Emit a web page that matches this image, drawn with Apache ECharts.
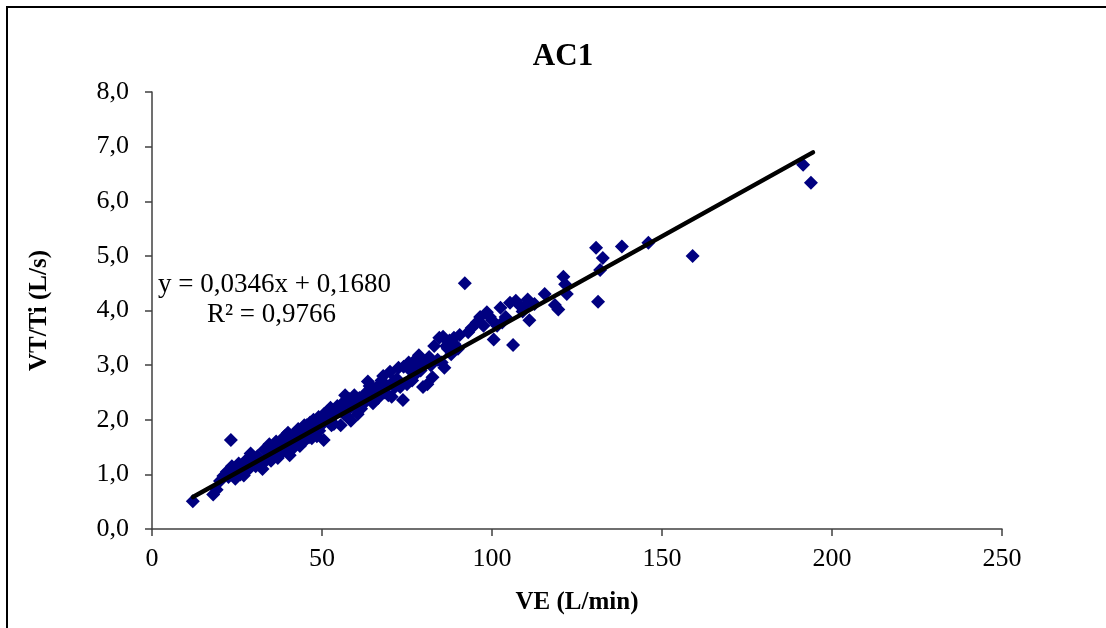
<!DOCTYPE html>
<html>
<head>
<meta charset="utf-8">
<script src="https://cdn.jsdelivr.net/npm/echarts@6/dist/echarts.min.js"></script>
<style>html,body{margin:0;padding:0;background:#fff}#c{width:1106px;height:628px}</style>
</head>
<body>
<div id="c"></div>
<script>
// VE (L/min) values
const veData = [12,18,19,20,21,22,23.2,23.5,24.5,25,25.5,26.5,27,28,28.5,29,30,30.5,31,32,32.5,33,34,34.5,35,36,36.5,37,37.5,38,38.5,39,39.5,40,40.5,41,41.5,42,42.5,43,43.5,44,44.5,45,45.5,46,46.5,47,47.5,48,48.5,49,49.5,50,50.5,50.5,51.5,52,52.5,53,53.5,54,55,55.5,56,56.8,57,57.5,58,58.5,59,60,60.5,61,62,63,63.5,64,64.5,65,66,67,68,68.5,69,70,70.5,71,72,72.5,73,73.8,74,75,75.5,76,77,77.5,78,78.5,79,79.7,81,81.5,82,83,84,84.5,85.6,86,86.5,87.5,88,89,90,90.5,92,94,95.5,96.5,97.5,98.5,99.4,100,100.5,101.5,102.5,104,105.3,106.2,107,108,109,110.5,111,112.5,115.5,118.5,119.5,121,121.5,122,130.6,131.2,131.8,132.6,138.2,146,159,191.5,193.8,
  22.5,24,26,27.5,29.5,31.5,33.5,35.5,37.2,38.8,40.2,41.8,43.2,44.8,46.2,47.8,49.2,51.2,52.8,54.5,56.5,58.3,59.5,61.5,62.5,64.8,66.5,67.5,69.5,71.5,76.5,80.2,82.5,85.2,87,88.8,93,103,109.5];
// VT/Ti (L/s) values
const vtData = [0.51,0.63,0.72,0.88,0.97,1.05,1.63,1.15,0.92,1.05,1.2,1.12,0.98,1.28,1.1,1.38,1.25,1.15,1.33,1.2,1.1,1.45,1.32,1.55,1.25,1.42,1.6,1.3,1.5,1.62,1.42,1.7,1.55,1.76,1.35,1.62,1.48,1.72,1.58,1.83,1.52,1.68,1.8,1.62,1.9,1.75,1.95,1.66,2.0,1.82,1.7,2.05,1.88,1.95,2.1,1.63,2.15,1.98,2.22,2.05,1.92,2.12,2.2,1.9,2.3,2.45,2.15,2.05,2.38,1.98,2.25,2.32,2.1,2.4,2.28,2.5,2.7,2.62,2.45,2.3,2.55,2.65,2.8,2.5,2.6,2.88,2.42,2.7,2.75,2.95,2.6,2.36,2.97,2.65,3.05,2.9,2.8,3.1,3.0,3.18,2.9,2.6,2.65,3.15,3.0,3.35,3.1,3.5,3.52,2.95,3.35,3.45,3.2,3.38,3.3,3.55,4.5,3.68,3.78,3.88,3.72,3.97,3.88,3.82,3.47,3.72,4.05,3.88,4.14,3.37,4.18,4.1,3.98,4.2,3.82,4.12,4.3,4.1,4.02,4.62,4.48,4.3,5.15,4.16,4.74,4.96,5.17,5.24,5.0,6.67,6.34,
  0.95,1.1,1.0,1.22,1.18,1.28,1.25,1.5,1.4,1.58,1.5,1.75,1.68,1.9,1.68,1.88,1.8,2.0,1.9,2.25,2.1,2.22,2.45,2.2,2.38,2.6,2.4,2.72,2.45,2.6,2.72,3.05,2.78,3.05,3.3,3.5,3.6,3.78,4.08];
// Trend line (from displayed regression equation)
const trendSlope = 0.0346;
const trendIntercept = 0.1680;
const trendRange = [12.06, 194.4];
const equationLines = ['y = 0,0346x + 0,1680', 'R² = 0,9766'];
const xTicks = [0, 50, 100, 150, 200, 250];
const yTicks = [0, 1, 2, 3, 4, 5, 6, 7, 8];

const points = veData.map((v, i) => [v, vtData[i]]);
const trend = trendRange.map(x => [x, trendSlope * x + trendIntercept]);

const serif = '"Liberation Serif", "Times New Roman", serif';
const chart = echarts.init(document.getElementById('c'));
chart.setOption({
  animation: false,
  backgroundColor: '#fff',
  title: {
    text: 'AC1', left: 558, textAlign: 'center', top: 36,
    textStyle: { fontFamily: serif, fontWeight: 'bold', fontSize: 31, color: '#000' }
  },
  grid: { left: 152, right: 104, top: 92, bottom: 99 },
  xAxis: {
    type: 'value', min: xTicks[0], max: xTicks[xTicks.length - 1], interval: 50,
    name: 'VE (L/min)', nameLocation: 'middle', nameGap: 61,
    nameTextStyle: { fontFamily: serif, fontWeight: 'bold', fontSize: 25, color: '#000' },
    axisLine: { show: true, lineStyle: { color: '#404040', width: 1.5 } },
    axisTick: { show: true, inside: false, length: 7, lineStyle: { color: '#404040', width: 1.5 } },
    axisLabel: { margin: 17, fontFamily: serif, fontSize: 26, color: '#000' },
    splitLine: { show: false }
  },
  yAxis: {
    type: 'value', min: yTicks[0], max: yTicks[yTicks.length - 1], interval: 1,
    name: 'VT/Ti (L/s)', nameLocation: 'middle', nameGap: 100, nameRotate: 90,
    nameTextStyle: { fontFamily: serif, fontWeight: 'bold', fontSize: 25, color: '#000' },
    axisLine: { show: true, lineStyle: { color: '#404040', width: 1.5 } },
    axisTick: { show: true, inside: false, length: 7, lineStyle: { color: '#404040', width: 1.5 } },
    axisLabel: { margin: 23, fontFamily: serif, fontSize: 26, color: '#000',
      formatter: v => v.toFixed(1).replace('.', ',') },
    splitLine: { show: false }
  },
  series: [
    {
      type: 'scatter', data: points, symbol: 'diamond', symbolSize: 14,
      itemStyle: { color: '#000080', opacity: 1 }, z: 2
    },
    {
      type: 'line', data: trend, symbol: 'none', showSymbol: false,
      lineStyle: { color: '#000', width: 4.5, cap: 'round' }, z: 3
    }
  ],
  graphic: [
    { type: 'rect', shape: { x: 7, y: 7, width: 1300, height: 800 },
      style: { fill: 'none', stroke: '#000', lineWidth: 2 }, silent: true },
    { type: 'text', left: 158, top: 271,
      style: { text: equationLines[0], font: '27px ' + serif, fill: '#000' } },
    { type: 'text', left: 207, top: 301,
      style: { text: equationLines[1], font: '27px ' + serif, fill: '#000' } }
  ]
});
</script>
</body>
</html>
